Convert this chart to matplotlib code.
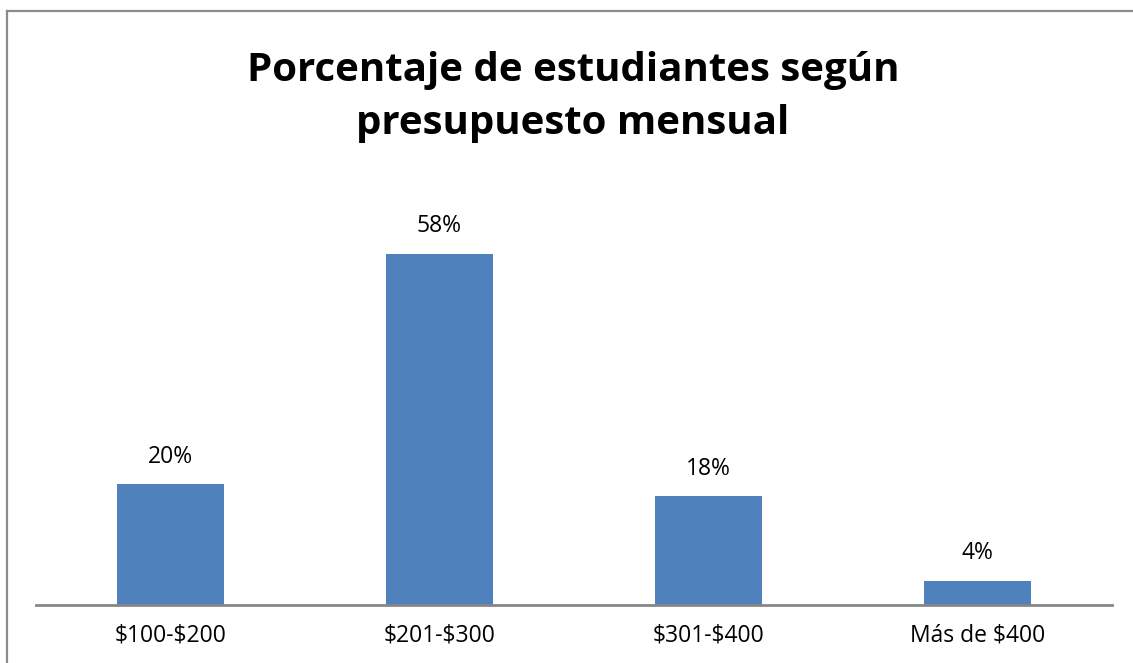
import matplotlib
matplotlib.use('Agg')
import matplotlib.pyplot as plt
from matplotlib.lines import Line2D

categories = ['$100-$200', '$201-$300', '$301-$400', 'Más de $400']
percentages = [20, 58, 18, 4]
title = 'Porcentaje de estudiantes según\npresupuesto mensual'

plt.rcParams['font.family'] = ['Open Sans', 'DejaVu Sans']
plt.rcParams['text.parse_math'] = False

W, H = 1133, 663
fig = plt.figure(figsize=(W / 100, H / 100), dpi=100)
ax = fig.add_axes([36 / W, (H - 605) / H, (1112 - 36) / W, (605 - 181) / H])

x = range(len(categories))
bars = ax.bar(x, percentages, width=0.4, color='#4F81BD')
ax.set_xlim(-0.5, len(categories) - 0.5)
ax.set_ylim(0, 70)

for b, v in zip(bars, percentages):
    ax.annotate(f'{v}%', (b.get_x() + b.get_width() / 2, v),
                xytext=(0, 11), textcoords='offset points',
                ha='center', va='bottom', fontsize=16.5, color='black')

ax.set_xticks(list(x))
ax.set_xticklabels(categories, fontsize=16.5)
ax.tick_params(axis='x', length=0, pad=13)
ax.set_yticks([])
for side in ['top', 'right', 'left']:
    ax.spines[side].set_visible(False)
ax.spines['bottom'].set_color('#868686')
ax.spines['bottom'].set_linewidth(2)

fig.text(573 / W, 1 - 97 / H, title, ha='center', va='center',
         fontsize=29, fontweight='bold', linespacing=1.45)

# chart frame (top and left edges visible)
border = '#8c8c8c'
fig.add_artist(Line2D([6.5 / W, 1], [1 - 10.5 / H, 1 - 10.5 / H], color=border, lw=1.6))
fig.add_artist(Line2D([6.5 / W, 6.5 / W], [0, 1 - 10.5 / H], color=border, lw=1.6))

fig.savefig('out.png', dpi=100)
